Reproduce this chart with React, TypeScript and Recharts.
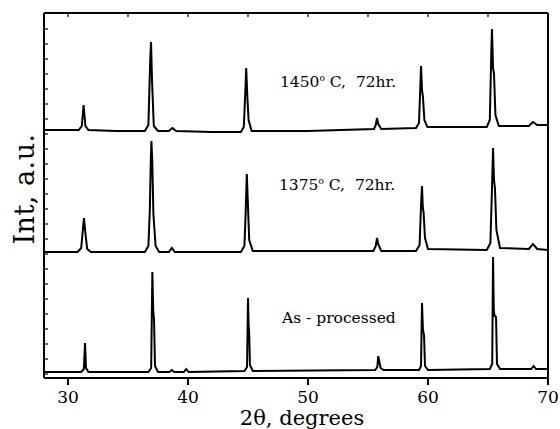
import React from 'react';
import { LineChart, Line, XAxis, YAxis } from 'recharts';

// 2θ (degrees) and intensity (a.u., traces stacked)
const x1450 = [28, 30, 30.9, 31.15, 31.3, 31.45, 31.7, 34, 36.4, 36.7, 36.85, 36.92, 37.0, 37.15, 37.5, 38.4, 38.7, 39.0, 42, 44.4, 44.65, 44.8, 44.85, 44.95, 45.05, 45.3, 50, 55.5, 55.65, 55.75, 55.85, 56.1, 59.0, 59.25, 59.38, 59.42, 59.5, 59.58, 59.7, 59.95, 62, 64.9, 65.15, 65.28, 65.33, 65.42, 65.5, 65.62, 65.9, 68.4, 68.75, 69.1, 70];
const y1450 = [248, 248, 248, 252, 273, 252, 248, 247, 247, 253, 318, 336, 298, 252, 247, 247, 250, 247, 246, 246, 251, 293, 310, 280, 258, 247, 247, 249, 253, 260, 254, 249, 250, 255, 298, 312, 288, 281, 258, 251, 251, 251, 258, 328, 349, 310, 304, 263, 252, 252, 256, 253, 253];

const x1375 = [28, 30.8, 31.1, 31.25, 31.33, 31.42, 31.6, 31.9, 36.4, 36.7, 36.82, 36.9, 36.95, 37.02, 37.12, 37.3, 37.6, 38.4, 38.65, 38.9, 44.4, 44.7, 44.8, 44.9, 44.98, 45.1, 45.4, 50, 55.45, 55.65, 55.75, 55.85, 56.1, 59.0, 59.3, 59.42, 59.5, 59.57, 59.63, 59.75, 60.0, 64.9, 65.2, 65.33, 65.42, 65.5, 65.58, 65.7, 66.0, 68.4, 68.75, 69.1, 70];
const y1375 = [126, 126, 130, 150, 160, 148, 129, 126, 126, 132, 168, 218, 237, 218, 163, 132, 126, 126, 130, 126, 126, 132, 163, 204, 178, 138, 127, 127, 127, 132, 140, 134, 127, 127, 133, 173, 192, 170, 166, 140, 129, 128, 135, 188, 230, 198, 190, 148, 130, 129, 134, 129, 128];

const xAsProc = [28, 31.1, 31.32, 31.42, 31.5, 31.7, 36.7, 36.93, 37.03, 37.1, 37.17, 37.25, 37.5, 38.45, 38.65, 38.85, 39.65, 39.85, 40.05, 44.7, 44.92, 45.0, 45.05, 45.1, 45.16, 45.4, 55.6, 55.78, 55.85, 55.95, 56.05, 56.3, 59.25, 59.42, 59.5, 59.58, 59.67, 59.75, 60.0, 65.15, 65.35, 65.42, 65.48, 65.55, 65.67, 65.75, 66.0, 68.6, 68.8, 69.0, 70];
const yAsProc = [6, 6, 9, 35, 10, 6, 6, 10, 106, 68, 58, 12, 6, 6, 8, 6, 6, 9, 6, 7, 11, 80, 53, 45, 13, 7, 8, 11, 22, 16, 10, 8, 8, 12, 75, 48, 43, 12, 8, 9, 14, 121, 68, 62, 61, 14, 9, 9, 12, 9, 9];

const xTicks = [30, 40, 50, 60, 70];
const xMinorTicks = [30, 35, 40, 45, 50, 55, 60, 65, 70];
const yMinorTicks = [4, 19, 34, 49, 64, 79, 94, 109, 124, 139, 154, 169, 184, 199, 214, 229, 244, 259, 274, 289, 304, 319, 334, 349];

const xLabel = '2θ, degrees';
const yLabel = 'Int, a.u.';
const traceLabels = [
  { t: '1450', rest: ' C,  72hr.' },
  { t: '1375', rest: ' C,  72hr.' },
];
const asLabel = 'As - processed';

const rows = (xs: number[], ys: number[]) => xs.map((x, i) => ({ x, y: ys[i] }));
const d1450 = rows(x1450, y1450);
const d1375 = rows(x1375, y1375);
const dAs = rows(xAsProc, yAsProc);

const FONT = 'DejaVu Serif';
const axisStroke = { stroke: '#000', strokeWidth: 2 };
const tickStroke = { stroke: '#000', strokeWidth: 1.2 };

export default function App() {
  return (
    <div style={{ position: 'absolute', left: 0, top: 0, width: 560, height: 429, background: '#fff' }}>
      <LineChart width={560} height={429} margin={{ top: 13, right: 4, bottom: 0, left: 44 }}>
        <XAxis
          xAxisId="bottom"
          dataKey="x"
          type="number"
          domain={[28, 70]}
          ticks={xTicks}
          allowDataOverflow
          height={51}
          tickSize={7}
          tickMargin={6}
          axisLine={axisStroke}
          tickLine={{ stroke: '#000', strokeWidth: 2 }}
          tick={{ fill: '#000', fontSize: 17, fontFamily: FONT }}
        />
        <XAxis
          xAxisId="top"
          orientation="top"
          mirror
          dataKey="x"
          type="number"
          domain={[28, 70]}
          ticks={xMinorTicks}
          allowDataOverflow
          height={10}
          tickSize={4}
          axisLine={axisStroke}
          tickLine={tickStroke}
          tickFormatter={() => ''}
        />
        <YAxis
          yAxisId="left"
          type="number"
          domain={[0, 365]}
          ticks={yMinorTicks}
          mirror
          width={10}
          tickSize={4}
          axisLine={axisStroke}
          tickLine={tickStroke}
          tickFormatter={() => ''}
        />
        <YAxis
          yAxisId="right"
          orientation="right"
          type="number"
          domain={[0, 365]}
          ticks={yMinorTicks}
          width={8}
          tickSize={4}
          axisLine={axisStroke}
          tickLine={tickStroke}
          tickFormatter={() => ''}
        />
        <Line xAxisId="bottom" yAxisId="left" data={d1450} dataKey="y" type="linear" stroke="#000" strokeWidth={2} dot={false} isAnimationActive={false} />
        <Line xAxisId="bottom" yAxisId="left" data={d1375} dataKey="y" type="linear" stroke="#000" strokeWidth={2} dot={false} isAnimationActive={false} />
        <Line xAxisId="bottom" yAxisId="left" data={dAs} dataKey="y" type="linear" stroke="#000" strokeWidth={2} dot={false} isAnimationActive={false} />
      </LineChart>
      <svg width={560} height={429} style={{ position: 'absolute', left: 0, top: 0, pointerEvents: 'none' }}>
        <text x={302} y={425} textAnchor="middle" fontFamily={FONT} fontSize={21} fill="#000">{xLabel}</text>
        <text x={0} y={0} transform="translate(34,189) rotate(-90)" textAnchor="middle" fontFamily={FONT} fontSize={27} letterSpacing={0.5} fill="#000">{yLabel}</text>
        <text x={280} y={87} fontFamily={FONT} fontSize={15.5} fill="#000" style={{ whiteSpace: 'pre' }}>
          {traceLabels[0].t}<tspan dy={-6} fontSize={9}>o</tspan><tspan dy={6}>{traceLabels[0].rest}</tspan>
        </text>
        <text x={279} y={190} fontFamily={FONT} fontSize={15.5} fill="#000" style={{ whiteSpace: 'pre' }}>
          {traceLabels[1].t}<tspan dy={-6} fontSize={9}>o</tspan><tspan dy={6}>{traceLabels[1].rest}</tspan>
        </text>
        <text x={282} y={323} fontFamily={FONT} fontSize={15.5} fill="#000">{asLabel}</text>
      </svg>
    </div>
  );
}
